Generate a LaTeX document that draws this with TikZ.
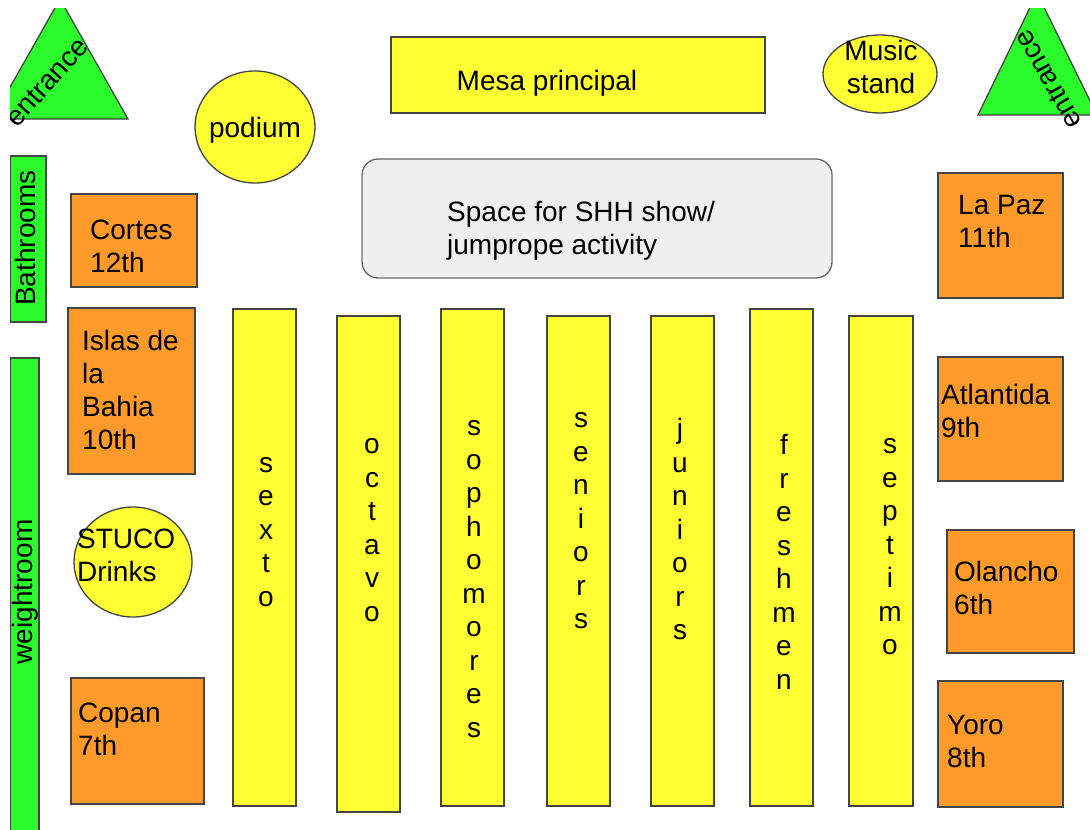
\documentclass[tikz,border=0pt]{standalone}
\usepackage{fontspec}
\setmainfont{Liberation Sans}

\definecolor{seatyellow}{HTML}{FFFF33}
\definecolor{roomorange}{HTML}{FF9A2B}
\definecolor{exitgreen}{HTML}{2BFA2B}
\definecolor{stagegray}{HTML}{EFEFEF}
\definecolor{edgegray}{HTML}{444444}

\tikzset{
  part/.style={draw=edgegray, line width=1.3pt},
  seat/.style={part, fill=seatyellow},
  room/.style={part, fill=roomorange},
  exit/.style={part, fill=exitgreen},
  lbl/.style={inner sep=0pt, font=\fontsize{28}{33}\selectfont, align=left},
  stack/.style={inner sep=0pt, font=\fontsize{28}{33.5}\selectfont, align=center}
}

\begin{document}
\begin{tikzpicture}[x=1pt, y=-1pt]
    \useasboundingbox (0,0) rectangle (1090,830);
    \clip (10,8) rectangle (1090,830);

    % Entrances and side rooms
    \draw[exit] (60,-1) -- (128,119) -- (-8,119) -- cycle;
    \node[lbl, rotate=48] (entranceL) at (47,82) {entrance};
    \draw[exit] (1037,-7) -- (1097,115) -- (978,115) -- cycle;
    \node[lbl, rotate=120] (entranceR) at (1048,80) {entrance};
    \draw[exit] (10,156) rectangle (46,322);
    \node[lbl, rotate=90] (bathrooms) at (25,238) {Bathrooms};
    \draw[exit] (10,358) rectangle (39,845);
    \node[lbl, rotate=90] (weightroom) at (25,592) {weightroom};

    % Front
    \draw[seat] (391,37) rectangle (765,113);
    \node[lbl] (mesa) at (547,83) {Mesa principal};
    \draw[seat] (255,127) ellipse (60 and 56);
    \node[lbl] (podium) at (255,130) {podium};
    \draw[seat] (880,74) ellipse (57 and 39);
    \node[lbl, align=center] (music) at (881,67) {Music\\stand};
    \draw[part, draw=gray!80!black, fill=stagegray, rounded corners=16pt] (362,159) rectangle (832,278);
    \node[lbl, anchor=north west] (space) at (447,201) {Space for SHH show/\\jumprope activity};

    % Left side
    \draw[room] (71,194) rectangle (197,287);
    \node[lbl, anchor=north west] (cortes) at (90,220) {Cortes\\12th};
    \draw[room] (68,308) rectangle (195,474);
    \node[lbl, anchor=north west] (islas) at (82,330) {Islas de\\la\\Bahia\\10th};
    \draw[seat] (133,562) ellipse (59 and 55);
    \node[lbl, anchor=north west] (stuco) at (77,529) {STUCO\\Drinks};
    \draw[room] (71,678) rectangle (204,804);
    \node[lbl, anchor=north west] (copan) at (78,703) {Copan\\7th};

    % Right side
    \draw[room] (938,173) rectangle (1063,298);
    \node[lbl, anchor=north west] (lapaz) at (958,195) {La Paz\\11th};
    \draw[room] (938,357) rectangle (1063,481);
    \node[lbl, anchor=north west] (atlantida) at (941,384) {Atlantida\\9th};
    \draw[room] (947,530) rectangle (1074,653);
    \node[lbl, anchor=north west] (olancho) at (954,561) {Olancho\\6th};
    \draw[room] (938,681) rectangle (1063,807);
    \node[lbl, anchor=north west] (yoro) at (947,715) {Yoro\\8th};

    % Tables
    \draw[seat] (233,309) rectangle (296,806);
    \node[stack] (sexto) at (266,532) {s\\e\\x\\t\\o};
    \draw[seat] (337,316) rectangle (400,812);
    \node[stack] (octavo) at (372,530) {o\\c\\t\\a\\v\\o};
    \draw[seat] (441,309) rectangle (504,806);
    \node[stack] (sophomores) at (474,579) {s\\o\\p\\h\\o\\m\\o\\r\\e\\s};
    \draw[seat] (547,316) rectangle (610,806);
    \node[stack] (seniors) at (581,521) {s\\e\\n\\i\\o\\r\\s};
    \draw[seat] (651,316) rectangle (714,806);
    \node[stack] (juniors) at (680,529) {j\\u\\n\\i\\o\\r\\s};
    \draw[seat] (750,309) rectangle (813,806);
    \node[stack] (freshmen) at (784,562) {f\\r\\e\\s\\h\\m\\e\\n};
    \draw[seat] (849,316) rectangle (913,806);
    \node[stack] (septimo) at (890,547) {s\\e\\p\\t\\i\\m\\o};
\end{tikzpicture}
\end{document}
